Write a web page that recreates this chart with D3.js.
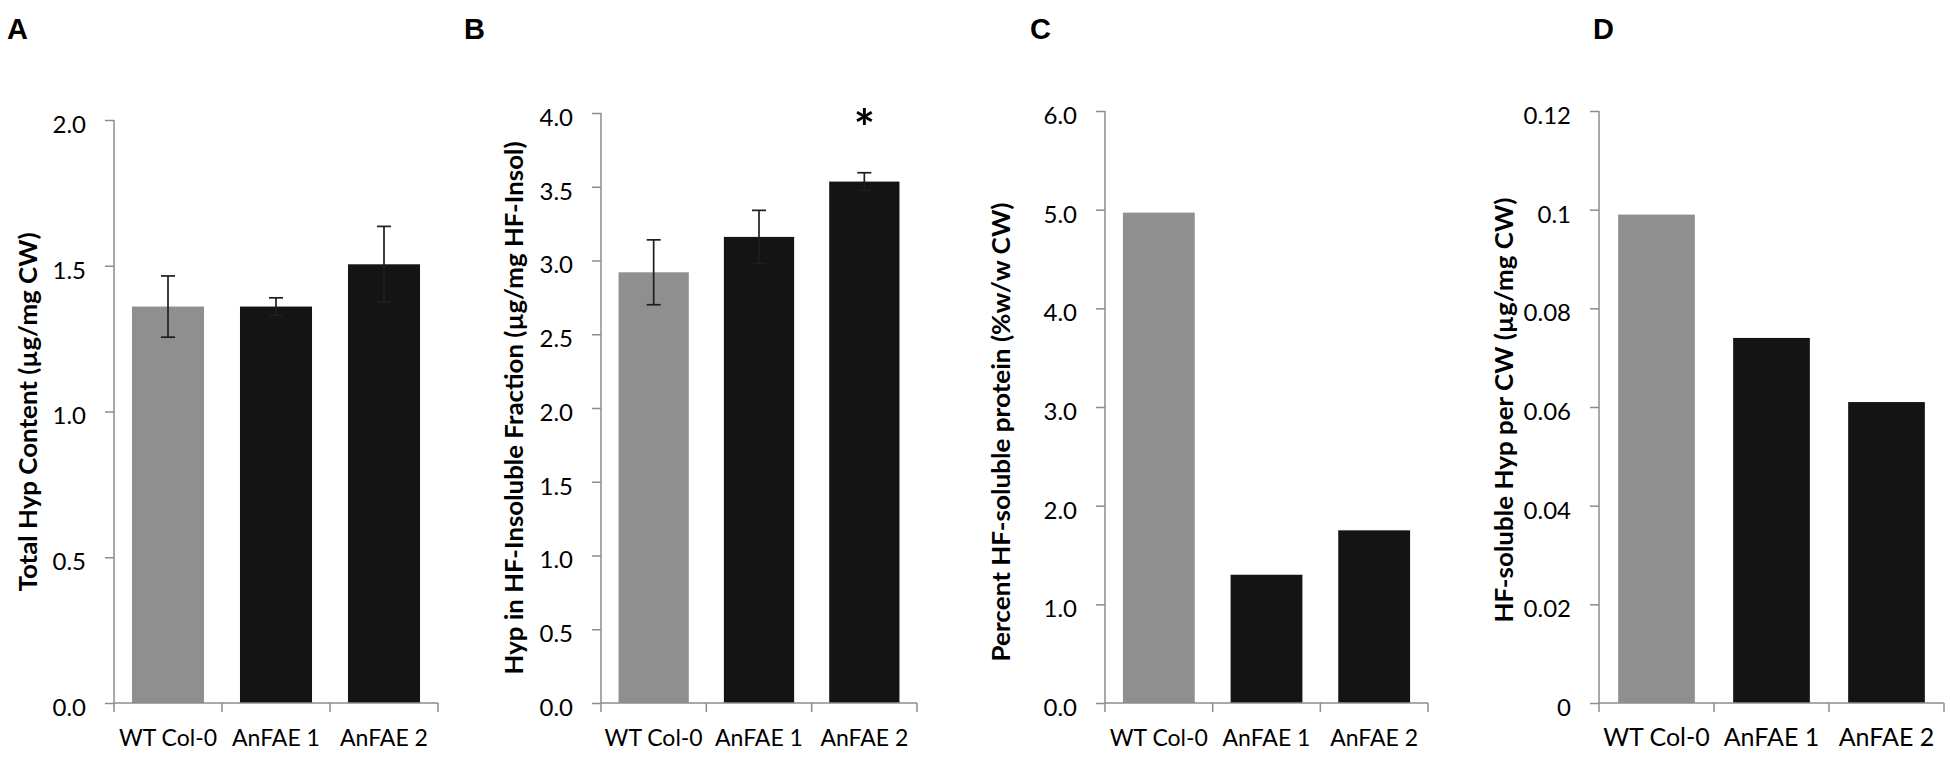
<!DOCTYPE html>
<html>
<head>
<meta charset="utf-8">
<script src="https://cdn.jsdelivr.net/npm/d3@7"></script>
<style>
    body { margin: 0; background: #fff; }
    svg { display: block; }
    text { font-family: Lato, "Open Sans", sans-serif; fill: #000; }
</style>
</head>
<body>
<div id="chart"></div>
<script>

// data
const categories = ["WT Col-0", "AnFAE 1", "AnFAE 2"];

const totalHyp = [1.36, 1.36, 1.505];
const totalHypErr = [0.105, 0.03, 0.13];

const insolHyp = [2.92, 3.16, 3.535];
const insolHypErr = [0.22, 0.18, 0.06];
const insolSig = ["", "", "*"];

const solProtein = [4.97, 1.30, 1.75];

const solHyp = [0.099, 0.074, 0.061];

const ticksA = [0, 0.5, 1.0, 1.5, 2.0];
const ticksB = [0, 0.5, 1.0, 1.5, 2.0, 2.5, 3.0, 3.5, 4.0];
const ticksC = [0, 1, 2, 3, 4, 5, 6];
const ticksD = [0, 0.02, 0.04, 0.06, 0.08, 0.1, 0.12];

const panelLetters = ["A", "B", "C", "D"];
const yTitles = [
    "Total Hyp Content (µg/mg CW)",
    "Hyp in HF-Insoluble Fraction (µg/mg HF-Insol)",
    "Percent HF-soluble protein (%w/w CW)",
    "HF-soluble Hyp per CW (µg/mg CW)"
];


/* * * * * * * * * * * * * *
*      class PanelVis       *
* * * * * * * * * * * * * */

class PanelVis {

    constructor(svg, opts){
        this.svg = svg;
        this.opts = opts;

        this.initVis()
    }

    initVis(){
        let vis = this;
        let o = vis.opts;

        vis.g = vis.svg.append("g").attr("class", "panel");

        vis.x = d3.scaleBand()
            .domain(categories)
            .range([o.left, o.right])
            .paddingInner(0.333)
            .paddingOuter(0.1665);

        vis.y = d3.scaleLinear()
            .domain([0, d3.max(o.ticks)])
            .range([o.bottom, o.top]);

        vis.wrangleData();
    }

    wrangleData(){
        let vis = this;
        let o = vis.opts;

        vis.rows = categories.map((c, i) => ({
            name: c,
            value: o.values[i],
            err: o.errors ? o.errors[i] : null,
            sig: o.sig ? o.sig[i] : "",
            control: i === 0
        }));

        vis.updateVis();
    }

    updateVis(){
        let vis = this;
        let o = vis.opts;
        let axisColor = "#8c8c8c";

        // bars
        vis.g.selectAll(".bar")
            .data(vis.rows)
            .enter().append("rect")
            .attr("class", "bar")
            .attr("x", d => vis.x(d.name))
            .attr("width", vis.x.bandwidth())
            .attr("y", d => vis.y(d.value))
            .attr("height", d => vis.y(0) - vis.y(d.value))
            .attr("fill", d => d.control ? "#8f8f8f" : "#141414");

        // error bars
        let withErr = vis.rows.filter(d => d.err != null);
        let cap = 7;
        let eb = vis.g.selectAll(".err")
            .data(withErr)
            .enter().append("g")
            .attr("class", "err")
            .attr("stroke", "#1e1e1e")
            .attr("stroke-width", 1.7);
        eb.append("line")
            .attr("x1", d => vis.x(d.name) + vis.x.bandwidth() / 2)
            .attr("x2", d => vis.x(d.name) + vis.x.bandwidth() / 2)
            .attr("y1", d => vis.y(d.value - d.err))
            .attr("y2", d => vis.y(d.value + d.err));
        eb.append("line")
            .attr("x1", d => vis.x(d.name) + vis.x.bandwidth() / 2 - cap)
            .attr("x2", d => vis.x(d.name) + vis.x.bandwidth() / 2 + cap)
            .attr("y1", d => vis.y(d.value + d.err))
            .attr("y2", d => vis.y(d.value + d.err));
        eb.append("line")
            .attr("x1", d => vis.x(d.name) + vis.x.bandwidth() / 2 - cap)
            .attr("x2", d => vis.x(d.name) + vis.x.bandwidth() / 2 + cap)
            .attr("y1", d => vis.y(d.value - d.err))
            .attr("y2", d => vis.y(d.value - d.err));

        // significance marks
        vis.g.selectAll(".sig")
            .data(vis.rows.filter(d => d.sig))
            .enter().append("text")
            .attr("class", "sig")
            .attr("x", d => vis.x(d.name) + vis.x.bandwidth() / 2)
            .attr("y", vis.y.range()[1] + 33)
            .attr("text-anchor", "middle")
            .style("font-size", "50px")
            .style("font-weight", "bold")
            .text(d => d.sig);

        // y axis
        let yAxis = d3.axisLeft(vis.y)
            .tickValues(o.ticks)
            .tickFormat(o.format)
            .tickSize(9)
            .tickPadding(19);
        let ya = vis.g.append("g")
            .attr("transform", "translate(" + o.left + ",0)")
            .call(yAxis);
        ya.select(".domain").attr("stroke", axisColor).attr("stroke-width", 1.5)
            .attr("d", "M0," + vis.y.range()[1] + "V" + vis.y.range()[0]);
        ya.selectAll(".tick line").attr("stroke", axisColor).attr("stroke-width", 1.5);
        ya.selectAll(".tick text")
            .attr("dy", "0.52em")
            .style("font-size", "24px")
            .attr("fill", "#000");

        // x axis: baseline with ticks at category boundaries
        let step = vis.x.step();
        let bounds = d3.range(categories.length + 1).map(i => o.left + i * step);
        vis.g.append("line")
            .attr("x1", o.left).attr("x2", o.left + categories.length * step)
            .attr("y1", vis.y(0)).attr("y2", vis.y(0))
            .attr("stroke", axisColor).attr("stroke-width", 1.5);
        vis.g.selectAll(".xtick")
            .data(bounds)
            .enter().append("line")
            .attr("class", "xtick")
            .attr("x1", d => d).attr("x2", d => d)
            .attr("y1", vis.y(0)).attr("y2", vis.y(0) + 9)
            .attr("stroke", axisColor).attr("stroke-width", 1.5);
        vis.g.selectAll(".xlab")
            .data(categories)
            .enter().append("text")
            .attr("class", "xlab")
            .attr("x", d => vis.x(d) + vis.x.bandwidth() / 2)
            .attr("y", vis.y(0) + 43)
            .attr("text-anchor", "middle")
            .style("font-size", o.xFont + "px")
            .text(d => d);

        // y title
        vis.g.append("text")
            .attr("transform", "translate(" + o.titleX + "," + o.titleY + ") rotate(-90)")
            .attr("text-anchor", "middle")
            .attr("textLength", o.titleLen)
            .attr("lengthAdjust", "spacingAndGlyphs")
            .style("font-size", "25px")
            .style("font-weight", "bold")
            .text(o.title);

        // panel letter
        vis.g.append("text")
            .attr("x", o.letterX)
            .attr("y", 39)
            .style("font-family", "'Liberation Sans', Arial, sans-serif")
            .style("font-size", "29px")
            .style("font-weight", "bold")
            .text(o.letter);
    }
}


let svg = d3.select("#chart").append("svg")
    .attr("width", 1950)
    .attr("height", 759);

let fmt1 = d3.format(".1f");
let fmtD = d => String(+d.toFixed(2));

new PanelVis(svg, {
    values: totalHyp, errors: totalHypErr, ticks: ticksA, format: fmt1,
    left: 114, right: 438, top: 120, bottom: 703, xFont: 23,
    title: yTitles[0], titleX: 37, titleY: 412, titleLen: 359,
    letter: panelLetters[0], letterX: 7
});

new PanelVis(svg, {
    values: insolHyp, errors: insolHypErr, sig: insolSig, ticks: ticksB, format: fmt1,
    left: 601, right: 917, top: 113, bottom: 703, xFont: 23,
    title: yTitles[1], titleX: 523, titleY: 408, titleLen: 533,
    letter: panelLetters[1], letterX: 464
});

new PanelVis(svg, {
    values: solProtein, ticks: ticksC, format: fmt1,
    left: 1105, right: 1428, top: 111, bottom: 703, xFont: 23,
    title: yTitles[2], titleX: 1010, titleY: 432, titleLen: 459,
    letter: panelLetters[2], letterX: 1030
});

new PanelVis(svg, {
    values: solHyp, ticks: ticksD, format: fmtD,
    left: 1599, right: 1944, top: 111, bottom: 703, xFont: 25,
    title: yTitles[3], titleX: 1513, titleY: 410, titleLen: 425,
    letter: panelLetters[3], letterX: 1593
});

</script>
</body>
</html>
